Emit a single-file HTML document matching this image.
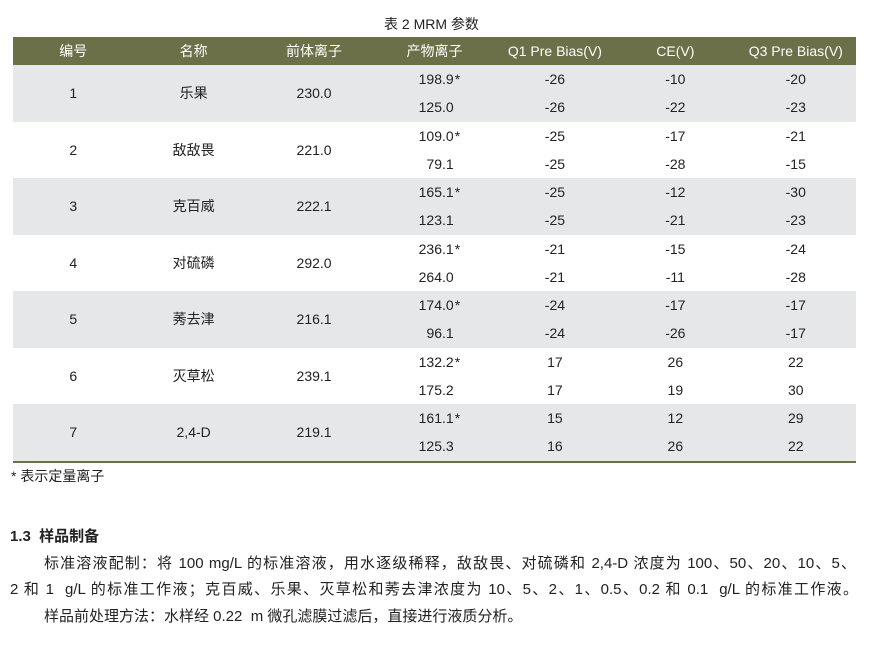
<!DOCTYPE html>
<html><head><meta charset="utf-8"><style>
body{margin:0;width:871px;height:656px;background:#fff;position:relative;overflow:hidden;font-family:"Liberation Sans","Noto Sans CJK SC",sans-serif;color:#222}
.t{position:absolute;white-space:nowrap}
table{position:absolute;left:13px;top:37px;width:843px;border-collapse:collapse;font-size:14px;table-layout:fixed}
th{background:#6b7048;color:#fff;font-weight:normal;height:28px;padding:0;text-align:center}
td{height:28.25px;padding:0;text-align:center}
tr.g td{background:#e6e7e8}
td.p{text-align:right;padding-right:41px;position:relative}
.s{position:absolute;margin-left:1px}
.bl{position:absolute;left:13px;top:461px;width:843px;height:2px;background:#6b7048}
.para{position:absolute;font-size:15px;white-space:nowrap;text-align:justify;text-align-last:justify}
</style></head><body>
<div class="t" style="left:384px;top:14px;font-size:14px">表 2 MRM 参数</div>
<table>
<colgroup><col span="7" style="width:120.4px"></colgroup>
<tr><th>编号</th><th>名称</th><th>前体离子</th><th>产物离子</th><th>Q1 Pre Bias(V)</th><th>CE(V)</th><th>Q3 Pre Bias(V)</th></tr>
<tr class="g"><td rowspan="2">1</td><td rowspan="2">乐果</td><td rowspan="2">230.0</td><td class="p">198.9<span class="s">*</span></td><td>-26</td><td>-10</td><td>-20</td></tr>
<tr class="g"><td class="p">125.0</td><td>-26</td><td>-22</td><td>-23</td></tr>
<tr><td rowspan="2">2</td><td rowspan="2">敌敌畏</td><td rowspan="2">221.0</td><td class="p">109.0<span class="s">*</span></td><td>-25</td><td>-17</td><td>-21</td></tr>
<tr><td class="p">79.1</td><td>-25</td><td>-28</td><td>-15</td></tr>
<tr class="g"><td rowspan="2">3</td><td rowspan="2">克百威</td><td rowspan="2">222.1</td><td class="p">165.1<span class="s">*</span></td><td>-25</td><td>-12</td><td>-30</td></tr>
<tr class="g"><td class="p">123.1</td><td>-25</td><td>-21</td><td>-23</td></tr>
<tr><td rowspan="2">4</td><td rowspan="2">对硫磷</td><td rowspan="2">292.0</td><td class="p">236.1<span class="s">*</span></td><td>-21</td><td>-15</td><td>-24</td></tr>
<tr><td class="p">264.0</td><td>-21</td><td>-11</td><td>-28</td></tr>
<tr class="g"><td rowspan="2">5</td><td rowspan="2">莠去津</td><td rowspan="2">216.1</td><td class="p">174.0<span class="s">*</span></td><td>-24</td><td>-17</td><td>-17</td></tr>
<tr class="g"><td class="p">96.1</td><td>-24</td><td>-26</td><td>-17</td></tr>
<tr><td rowspan="2">6</td><td rowspan="2">灭草松</td><td rowspan="2">239.1</td><td class="p">132.2<span class="s">*</span></td><td>17</td><td>26</td><td>22</td></tr>
<tr><td class="p">175.2</td><td>17</td><td>19</td><td>30</td></tr>
<tr class="g"><td rowspan="2">7</td><td rowspan="2">2,4-D</td><td rowspan="2">219.1</td><td class="p">161.1<span class="s">*</span></td><td>15</td><td>12</td><td>29</td></tr>
<tr class="g"><td class="p">125.3</td><td>16</td><td>26</td><td>22</td></tr>
</table>
<div class="bl"></div>
<div class="t" style="left:11px;top:466px;font-size:14px">* 表示定量离子</div>
<div class="t" style="left:10px;top:525px;font-size:15px;font-weight:bold">1.3&nbsp; 样品制备</div>
<div class="para" style="left:44px;top:552px;width:812px">标准溶液配制：将 100 mg/L 的标准溶液，用水逐级稀释，敌敌畏、对硫磷和 2,4-D 浓度为 100、50、20、10、5、</div>
<div class="para" style="left:10px;top:578px;width:848px">2 和 1 &nbsp;g/L 的标准工作液；克百威、乐果、灭草松和莠去津浓度为 10、5、2、1、0.5、0.2 和 0.1 &nbsp;g/L 的标准工作液。</div>
<div class="t" style="left:44px;top:605px;font-size:15px">样品前处理方法：水样经 0.22 &nbsp;m 微孔滤膜过滤后，直接进行液质分析。</div>
</body></html>
